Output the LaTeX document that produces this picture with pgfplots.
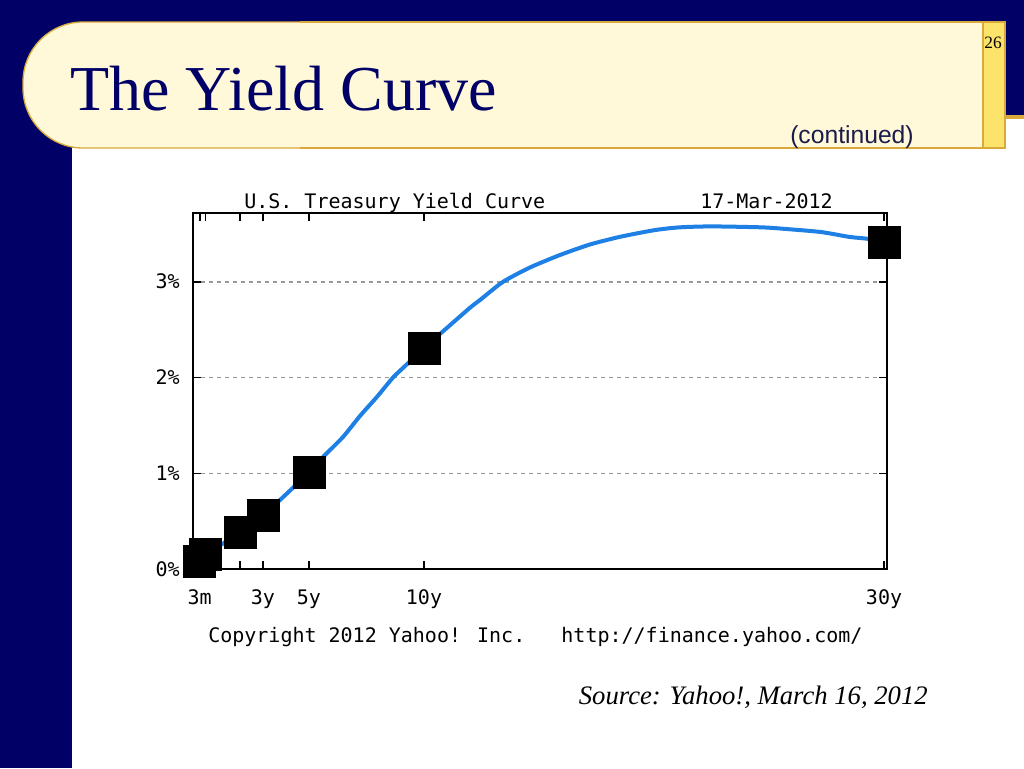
\documentclass[border=0pt]{standalone}
\usepackage{fontspec}
\setmainfont{Liberation Serif}
\newfontfamily\sansf{Liberation Sans}
\newfontfamily\monof{DejaVu Sans Mono}
\usepackage{pgfplots}
\pgfplotsset{compat=1.18}
\usepackage{pgfplotstable}

\definecolor{navy}{HTML}{000066}
\definecolor{cream}{HTML}{FFF8D9}
\definecolor{gold}{HTML}{D9A93A}
\definecolor{strip}{HTML}{FCE36C}
\definecolor{curveblue}{HTML}{1E80E4}
\definecolor{gridgray}{HTML}{9A9A9A}
\definecolor{contcol}{HTML}{1C1C4C}

% maturity (years) vs yield (%)
\pgfplotstableread{
mat yield
0.25 0.08
0.5 0.15
2 0.38
3 0.56
5 1.01
10 2.31
30 3.41
}\points

% fitted curve
\pgfplotstableread{
mat yield
0.25 0.08
0.5 0.15
2 0.38
3 0.56
4 0.78
5 1.01
5.65 1.18
6.48 1.38
7.22 1.60
7.96 1.80
8.65 2.00
9.26 2.14
10 2.31
11 2.52
12 2.73
12.43 2.81
13.43 3.00
14.6 3.15
15.9 3.28
17.2 3.39
18.5 3.47
20 3.54
21.1 3.57
22.5 3.58
24.7 3.57
25.9 3.55
27.3 3.52
28.5 3.47
29.3 3.45
30 3.41
}\curve

\begin{document}
\begin{tikzpicture}[x=0.75pt,y=-0.75pt]
\useasboundingbox (0,0) rectangle (1024,768);
% slide background
\fill[navy] (0,0) rectangle (1024,768);
\fill[white] (72,148) rectangle (1024,768);
\fill[white] (1005,118) rectangle (1024,148);
\fill[gold] (1005,115) rectangle (1024,119);
% title box
\filldraw[fill=cream, draw=gold, line width=1pt, rounded corners=45pt] (23,22) rectangle (1005,148);
\fill[cream] (300,22) rectangle (1005,148);
\draw[gold, line width=1pt] (300,22) -- (1005,22);
\draw[gold, line width=1.6pt] (300,148) -- (1005,148);
\filldraw[fill=strip, draw=gold, line width=1pt] (983,22) rectangle (1005,148);

\node[anchor=base west, inner sep=0pt, text=navy, font=\fontsize{48}{48}\selectfont] at (70,110) {The Yield Curve};
\node[anchor=base west, inner sep=0pt, text=contcol, font=\sansf\fontsize{18.5}{18.5}\selectfont] at (790,143) {(continued)};
\node[anchor=base east, inner sep=0pt, font=\fontsize{13}{13}\selectfont] at (1002,48) {26};

\begin{axis}[
    at={(144.75pt,-426.75pt)}, anchor=south west,
    scale only axis, width=520.5pt, height=267pt,
    xmin=-0.043, xmax=30.13, ymin=0, ymax=3.72,
    axis line style={line width=1.5pt},
    xtick={0.25,0.5,2,3,5,10,30},
    xticklabels={3m,,,3y,5y,10y,30y},
    ytick={0,1,2,3},
    yticklabels={0\%,1\%,2\%,3\%},
    tick align=inside,
    major tick length=6pt,
    tick style={black, line width=1.2pt},
    ymajorgrids,
    grid style={gridgray, dash pattern=on 3pt off 3pt, line width=1pt},
    ticklabel style={font=\monof\fontsize{15}{15}\selectfont, inner sep=0pt},
    xticklabel style={anchor=base, yshift=-26.25pt},
    yticklabel style={anchor=base east, xshift=-9.75pt, yshift=-5.25pt},
    clip=false,
]
\addplot[curveblue, line width=3pt, smooth, tension=0.4] table[x=mat, y=yield] {\curve};
\addplot[only marks, mark=square*, mark size=12pt, mark options={fill=black, draw=none}] table[x=mat, y=yield] {\points};
\end{axis}

\node[anchor=base west, inner sep=0pt, font=\monof\fontsize{15}{15}\selectfont] at (244,208) {U.S. Treasury Yield Curve};
\node[anchor=base west, inner sep=0pt, font=\monof\fontsize{15}{15}\selectfont] at (700,208) {17-Mar-2012};
\node[anchor=base west, inner sep=0pt, font=\monof\fontsize{15}{15}\selectfont] at (208,642) {Copyright 2012 Yahoo! Inc.~~~http://finance.yahoo.com/};
\node[anchor=base east, inner sep=0pt, font=\itshape\fontsize{20}{20}\selectfont] at (928,704) {Source: Yahoo!, March 16, 2012};
\end{tikzpicture}
\end{document}
